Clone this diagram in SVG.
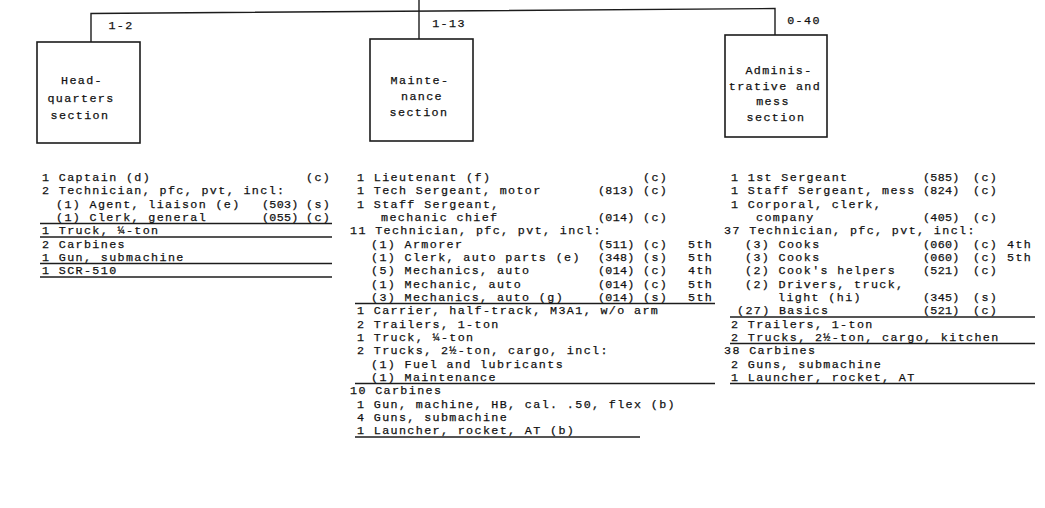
<svg xmlns="http://www.w3.org/2000/svg" width="1045" height="508" viewBox="0 0 1045 508">
<style>
.t{font-family:"Liberation Mono","DejaVu Sans Mono",monospace;font-size:11.7px;letter-spacing:1.38px;fill:#111;stroke:#111;stroke-width:0.25px}
.m{text-anchor:middle}
.c{letter-spacing:0.3px}
.box{fill:#fff;stroke:#1c1c1c;stroke-width:1.6}
.ln{stroke:#1c1c1c;stroke-width:1.4;fill:none}
.ul{stroke:#1c1c1c;stroke-width:1.3}
</style>
<rect width="1045" height="508" fill="#fff"/>
<g id="connectors">
<polyline class="ln" points="91,42 91,13.5 775,8.5 775,35"/>
<line class="ln" x1="419" y1="0" x2="419" y2="39"/>
</g>
<g id="hq">
<rect class="box" x="37" y="42" width="103" height="101"/>
<text class="t m" x="121" y="29">1-2</text>
<text class="t m" x="82" y="84">Head-</text>
<text class="t m" x="81" y="102">quarters</text>
<text class="t m" x="80" y="119">section</text>
<text class="t" x="42" y="181">1 Captain (d)</text><text class="t" x="306" y="181">(c)</text>
<text class="t" x="42" y="194.3">2 Technician, pfc, pvt, incl:</text>
<text class="t" x="56" y="207.7">(1) Agent, liaison (e)</text><text class="t c" x="262" y="207.7">(503)</text><text class="t" x="306" y="207.7">(s)</text>
<text class="t" x="56" y="221">(1) Clerk, general</text><text class="t c" x="262" y="221">(055)</text><text class="t" x="306" y="221">(c)</text>
<line class="ul" x1="40" y1="223.5" x2="332" y2="223.5"/>
<text class="t" x="42" y="234.3">1 Truck, ¼-ton</text>
<line class="ul" x1="40" y1="237" x2="332" y2="237"/>
<text class="t" x="42" y="247.7">2 Carbines</text>
<text class="t" x="42" y="261">1 Gun, submachine</text>
<line class="ul" x1="40" y1="263.5" x2="332" y2="263.5"/>
<text class="t" x="42" y="274.3">1 SCR-510</text>
<line class="ul" x1="40" y1="277" x2="332" y2="277"/>
</g>
<g id="maint">
<rect class="box" x="370" y="39" width="103" height="102"/>
<text class="t m" x="449" y="27">1-13</text>
<text class="t m" x="420" y="84">Mainte-</text>
<text class="t m" x="422" y="100">nance</text>
<text class="t m" x="419" y="116">section</text>
<text class="t" x="357" y="181">1 Lieutenant (f)</text><text class="t" x="643" y="181">(c)</text>
<text class="t" x="357" y="194.3">1 Tech Sergeant, motor</text><text class="t c" x="598" y="194.3">(813)</text><text class="t" x="643" y="194.3">(c)</text>
<text class="t" x="357" y="207.7">1 Staff Sergeant,</text>
<text class="t" x="381" y="221">mechanic chief</text><text class="t c" x="598" y="221">(014)</text><text class="t" x="643" y="221">(c)</text>
<text class="t" x="350" y="234.3">11 Technician, pfc, pvt, incl:</text>
<text class="t" x="371" y="247.7">(1) Armorer</text><text class="t c" x="598" y="247.7">(511)</text><text class="t" x="643" y="247.7">(c)</text><text class="t" x="688" y="247.7">5th</text>
<text class="t" x="371" y="261">(1) Clerk, auto parts (e)</text><text class="t c" x="598" y="261">(348)</text><text class="t" x="643" y="261">(s)</text><text class="t" x="688" y="261">5th</text>
<text class="t" x="371" y="274.3">(5) Mechanics, auto</text><text class="t c" x="598" y="274.3">(014)</text><text class="t" x="643" y="274.3">(c)</text><text class="t" x="688" y="274.3">4th</text>
<text class="t" x="371" y="287.7">(1) Mechanic, auto</text><text class="t c" x="598" y="287.7">(014)</text><text class="t" x="643" y="287.7">(c)</text><text class="t" x="688" y="287.7">5th</text>
<text class="t" x="371" y="301">(3) Mechanics, auto (g)</text><text class="t c" x="598" y="301">(014)</text><text class="t" x="643" y="301">(s)</text><text class="t" x="688" y="301">5th</text>
<line class="ul" x1="355" y1="303.5" x2="715" y2="303.5"/>
<text class="t" x="357" y="314.3">1 Carrier, half-track, M3A1, w/o arm</text>
<text class="t" x="357" y="327.7">2 Trailers, 1-ton</text>
<text class="t" x="357" y="341">1 Truck, ¼-ton</text>
<text class="t" x="357" y="354.3">2 Trucks, 2½-ton, cargo, incl:</text>
<text class="t" x="371" y="367.7">(1) Fuel and lubricants</text>
<text class="t" x="371" y="381">(1) Maintenance</text>
<line class="ul" x1="355" y1="383.5" x2="715" y2="383.5"/>
<text class="t" x="350" y="394.3">10 Carbines</text>
<text class="t" x="357" y="407.7">1 Gun, machine, HB, cal. .50, flex (b)</text>
<text class="t" x="357" y="421">4 Guns, submachine</text>
<text class="t" x="357" y="434.3">1 Launcher, rocket, AT (b)</text>
<line class="ul" x1="355" y1="437" x2="640" y2="437"/>
</g>
<g id="admin">
<rect class="box" x="725" y="35" width="102" height="102"/>
<text class="t m" x="804" y="24">0-40</text>
<text class="t m" x="779" y="74">Adminis-</text>
<text class="t m" x="775" y="90">trative and</text>
<text class="t m" x="773" y="105">mess</text>
<text class="t m" x="776" y="121">section</text>
<text class="t" x="731" y="181">1 1st Sergeant</text><text class="t c" x="923" y="181">(585)</text><text class="t" x="973" y="181">(c)</text>
<text class="t" x="731" y="194.3">1 Staff Sergeant, mess</text><text class="t c" x="923" y="194.3">(824)</text><text class="t" x="973" y="194.3">(c)</text>
<text class="t" x="731" y="207.7">1 Corporal, clerk,</text>
<text class="t" x="756" y="221">company</text><text class="t c" x="923" y="221">(405)</text><text class="t" x="973" y="221">(c)</text>
<text class="t" x="724" y="234.3">37 Technician, pfc, pvt, incl:</text>
<text class="t" x="745" y="247.7">(3) Cooks</text><text class="t c" x="923" y="247.7">(060)</text><text class="t" x="973" y="247.7">(c)</text><text class="t" x="1007" y="247.7">4th</text>
<text class="t" x="745" y="261">(3) Cooks</text><text class="t c" x="923" y="261">(060)</text><text class="t" x="973" y="261">(c)</text><text class="t" x="1007" y="261">5th</text>
<text class="t" x="745" y="274.3">(2) Cook's helpers</text><text class="t c" x="923" y="274.3">(521)</text><text class="t" x="973" y="274.3">(c)</text>
<text class="t" x="745" y="287.7">(2) Drivers, truck,</text>
<text class="t" x="778" y="301">light (hi)</text><text class="t c" x="923" y="301">(345)</text><text class="t" x="973" y="301">(s)</text>
<text class="t" x="737" y="314.3">(27) Basics</text><text class="t c" x="923" y="314.3">(521)</text><text class="t" x="973" y="314.3">(c)</text>
<line class="ul" x1="730" y1="317" x2="1035" y2="317"/>
<text class="t" x="731" y="327.7">2 Trailers, 1-ton</text>
<text class="t" x="731" y="341">2 Trucks, 2½-ton, cargo, kitchen</text>
<line class="ul" x1="730" y1="343.5" x2="1035" y2="343.5"/>
<text class="t" x="724" y="354.3">38 Carbines</text>
<text class="t" x="731" y="367.7">2 Guns, submachine</text>
<text class="t" x="731" y="381">1 Launcher, rocket, AT</text>
<line class="ul" x1="730" y1="383.5" x2="1035" y2="383.5"/>
</g>
</svg>
